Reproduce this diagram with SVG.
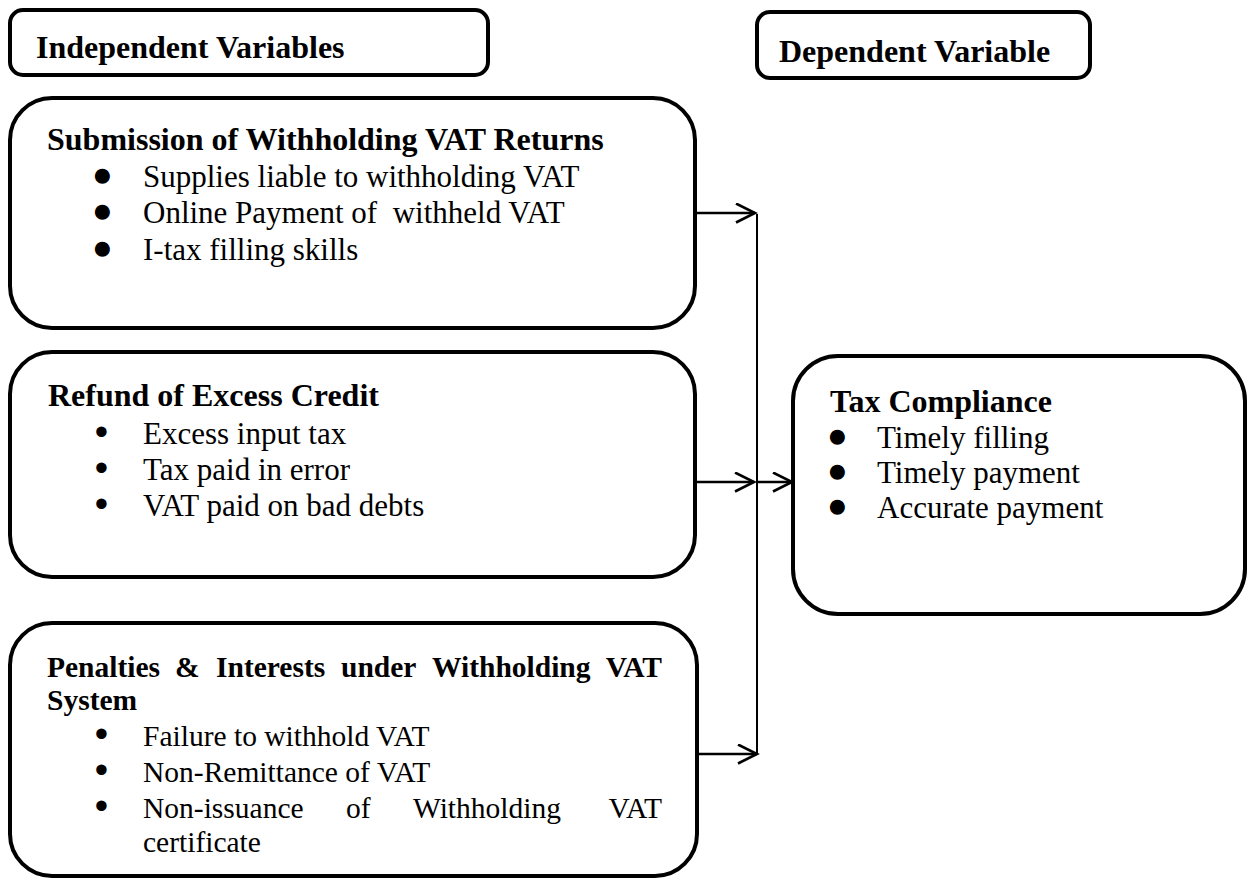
<svg xmlns="http://www.w3.org/2000/svg" width="1248" height="882" viewBox="0 0 1248 882">
<defs>
<style>
.box{fill:#fff;stroke:#000;stroke-width:4}
.t{font-family:"Liberation Serif","Times New Roman",serif;fill:#000}
.h{font-size:32px;font-weight:bold}
.b{font-size:32px;font-weight:bold}
.r{font-size:31px}
.b3{font-size:29.5px;font-weight:bold}
.r3{font-size:29.5px}
.dot{font-size:31px;stroke:#000;stroke-width:1.6}
.sdot{font-size:31px;stroke:#000;stroke-width:3}
.line{stroke:#000;stroke-width:2;fill:none}
.arr{stroke:#000;stroke-width:2.6;fill:none}
</style>
<marker id="ah" markerUnits="userSpaceOnUse" markerWidth="24" markerHeight="24" refX="20" refY="10" orient="auto">
<path d="M1,0.5 L20,10 L1,19.5" fill="none" stroke="#000" stroke-width="2.6"/>
</marker>
</defs>
<rect width="1248" height="882" fill="#fff"/>

<g id="header-independent">
<rect class="box" x="10" y="10" width="478" height="65" rx="13"/>
<text class="t h" x="36" y="58">Independent Variables</text>
</g>

<g id="header-dependent">
<rect class="box" x="757" y="12" width="333" height="66" rx="13"/>
<text class="t h" x="779" y="62">Dependent Variable</text>
</g>

<g id="submission">
<rect class="box" x="10" y="98" width="685" height="230" rx="42"/>
<text class="t b" x="47" y="150">Submission of Withholding VAT Returns</text>
<text class="t dot" x="93" y="185">●</text>
<text class="t r" x="143" y="187">Supplies liable to withholding VAT</text>
<text class="t dot" x="93" y="221">●</text>
<text class="t r" x="143" y="223" xml:space="preserve">Online Payment of  withheld VAT</text>
<text class="t dot" x="93" y="258">●</text>
<text class="t r" x="143" y="260">I-tax filling skills</text>
</g>

<g id="refund">
<rect class="box" x="10" y="352" width="685" height="225" rx="42"/>
<text class="t b" x="48" y="406">Refund of Excess Credit</text>
<text class="t sdot" x="96" y="443">•</text>
<text class="t r" x="143" y="444">Excess input tax</text>
<text class="t sdot" x="96" y="479">•</text>
<text class="t r" x="143" y="480">Tax paid in error</text>
<text class="t sdot" x="96" y="515">•</text>
<text class="t r" x="143" y="516">VAT paid on bad debts</text>
</g>

<g id="penalties">
<rect class="box" x="10" y="623" width="687" height="253" rx="42"/>
<text class="t b3" y="677"><tspan x="47">Penalties</tspan><tspan x="175">&amp;</tspan><tspan x="216">Interests</tspan><tspan x="341">under</tspan><tspan x="432">Withholding</tspan></text>
<text class="t b3" x="662" y="677" text-anchor="end">VAT</text>
<text class="t b3" x="47" y="710">System</text>
<text class="t sdot" x="96" y="745">•</text>
<text class="t r3" x="143" y="746">Failure to withhold VAT</text>
<text class="t sdot" x="96" y="781">•</text>
<text class="t r3" x="143" y="782">Non-Remittance of VAT</text>
<text class="t sdot" x="96" y="817">•</text>
<text class="t r3" y="818"><tspan x="143">Non-issuance</tspan><tspan x="346">of</tspan><tspan x="413">Withholding</tspan></text>
<text class="t r3" x="662" y="818" text-anchor="end">VAT</text>
<text class="t r3" x="143" y="852">certificate</text>
</g>

<g id="tax-compliance">
<rect class="box" x="793" y="356" width="452" height="258" rx="45"/>
<text class="t b" x="830" y="412">Tax Compliance</text>
<text class="t dot" x="828" y="446">●</text>
<text class="t r" x="877" y="448">Timely filling</text>
<text class="t dot" x="828" y="481">●</text>
<text class="t r" x="877" y="483">Timely payment</text>
<text class="t dot" x="828" y="516">●</text>
<text class="t r" x="877" y="518">Accurate payment</text>
</g>

<g id="connectors">
<line class="line" x1="757" y1="214" x2="757" y2="755"/>
<line class="arr" x1="695" y1="213" x2="755" y2="213" marker-end="url(#ah)"/>
<line class="arr" x1="695" y1="482" x2="754" y2="482" marker-end="url(#ah)"/>
<line class="arr" x1="757" y1="482" x2="792" y2="482" marker-end="url(#ah)"/>
<line class="arr" x1="697" y1="754" x2="757" y2="754" marker-end="url(#ah)"/>
</g>
</svg>
